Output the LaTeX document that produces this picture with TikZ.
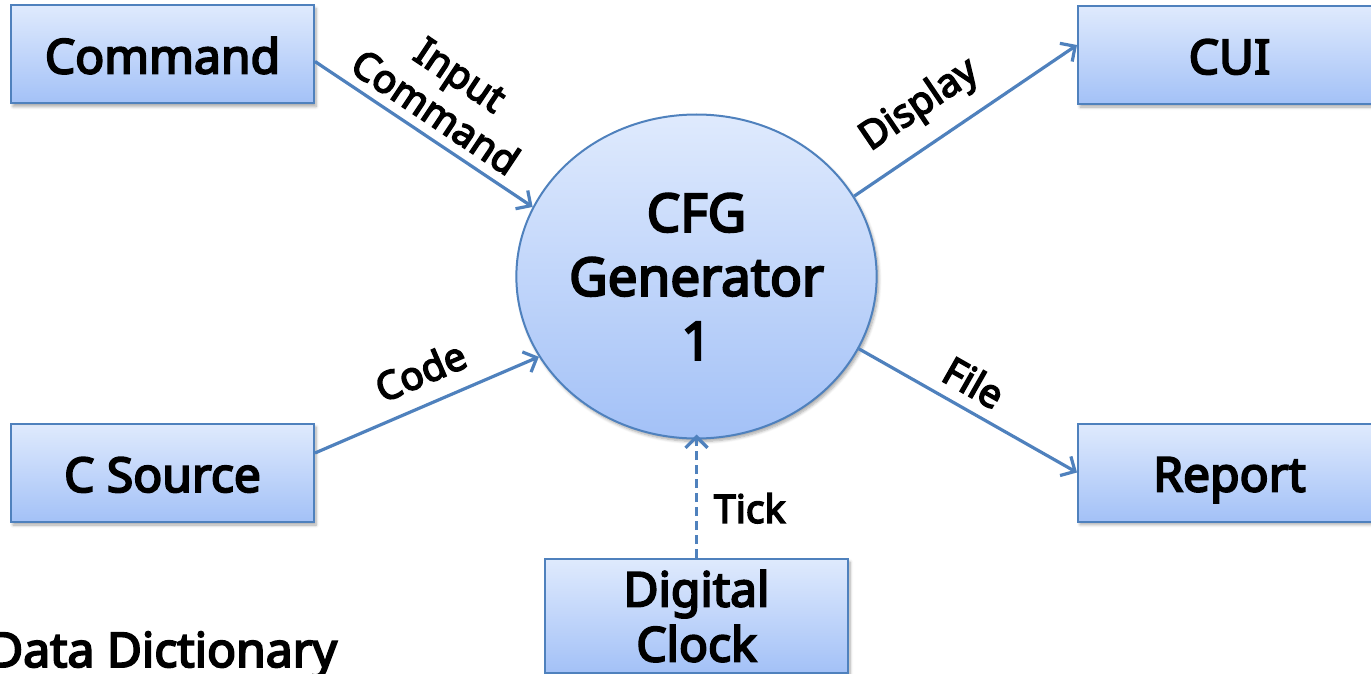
\documentclass[tikz,border=0pt]{standalone}
\usepackage{fontspec}
\setmainfont{Noto Sans}[AutoFakeBold=4]
\usetikzlibrary{shapes.geometric,arrows.meta,shadows.blur}
\definecolor{edgeblue}{RGB}{79,129,189}
\definecolor{filltop}{RGB}{223,234,253}
\definecolor{fillbot}{RGB}{163,193,247}
\begin{document}
\begin{tikzpicture}[x=1pt,y=-1pt,
  softshadow/.style={blur shadow={shadow xshift=2pt, shadow yshift=-3pt,
      shadow blur radius=3pt, shadow blur steps=6, shadow opacity=35}},
  entitybase/.style={draw=edgeblue, line width=2pt, top color=filltop,
      bottom color=fillbot, minimum width=303pt, minimum height=98pt,
      inner sep=0pt, align=center, softshadow,
      font=\fontsize{48}{55}\selectfont\bfseries},
  entity/.style={entitybase, text height=38pt, text depth=0pt},
  process/.style={ellipse, draw=edgeblue, line width=2pt, top color=filltop,
      bottom color=fillbot, minimum width=360pt, minimum height=324pt,
      inner sep=0pt, align=center, softshadow,
      font=\fontsize{53}{64}\selectfont\bfseries},
  flow/.style={draw=edgeblue, line width=3.2pt,
      -{Straight Barb[length=11pt,width=22pt]}},
  lab/.style={font=\fontsize{39}{45}\selectfont\bfseries, align=center,
      inner sep=4pt}]

\useasboundingbox (0,0) rectangle (1371,674);

% external entities
\node[entity] (cmd)  at (162.5,54.5)  {Command};
\node[entity] (csrc) at (162.5,473)   {C Source};
\node[entity] (cui)  at (1229.5,55)   {CUI};
\node[entity] (rep)  at (1229.5,472.5) {Report};
\node[entitybase, minimum height=114pt] (clk) at (696.5,616) {Digital\\Clock};

% the process
\node[process] (gen) at (696.5,276.5) {CFG\\Generator\\1};

% caption
\node[anchor=base west, inner sep=0pt,
      font=\fontsize{48}{55}\selectfont\bfseries] (dd) at (-12,667) {Data Dictionary};

% data flows
\draw[flow] ([yshift=-7pt]cmd.east) --
  node[lab, sloped, above=5pt, pos=0.49] {Input\\Command} (gen.157);
\draw[flow] (gen.27.4) --
  node[lab, sloped, above=13pt, pos=0.39] {Display} ([yshift=10pt]cui.west);
\draw[flow] ([yshift=20pt]csrc.east) --
  node[lab, sloped, above=13pt, pos=0.53] {Code} (gen.207);
\draw[flow] (gen.336) --
  node[lab, sloped, above=7pt, pos=0.465] {File} (rep.west);
\draw[flow, dash pattern=on 9pt off 5pt, shorten >=-5pt] (clk.north) --
  node[lab, right=12pt, pos=0.42] {Tick} (gen.south);
\end{tikzpicture}
\end{document}
